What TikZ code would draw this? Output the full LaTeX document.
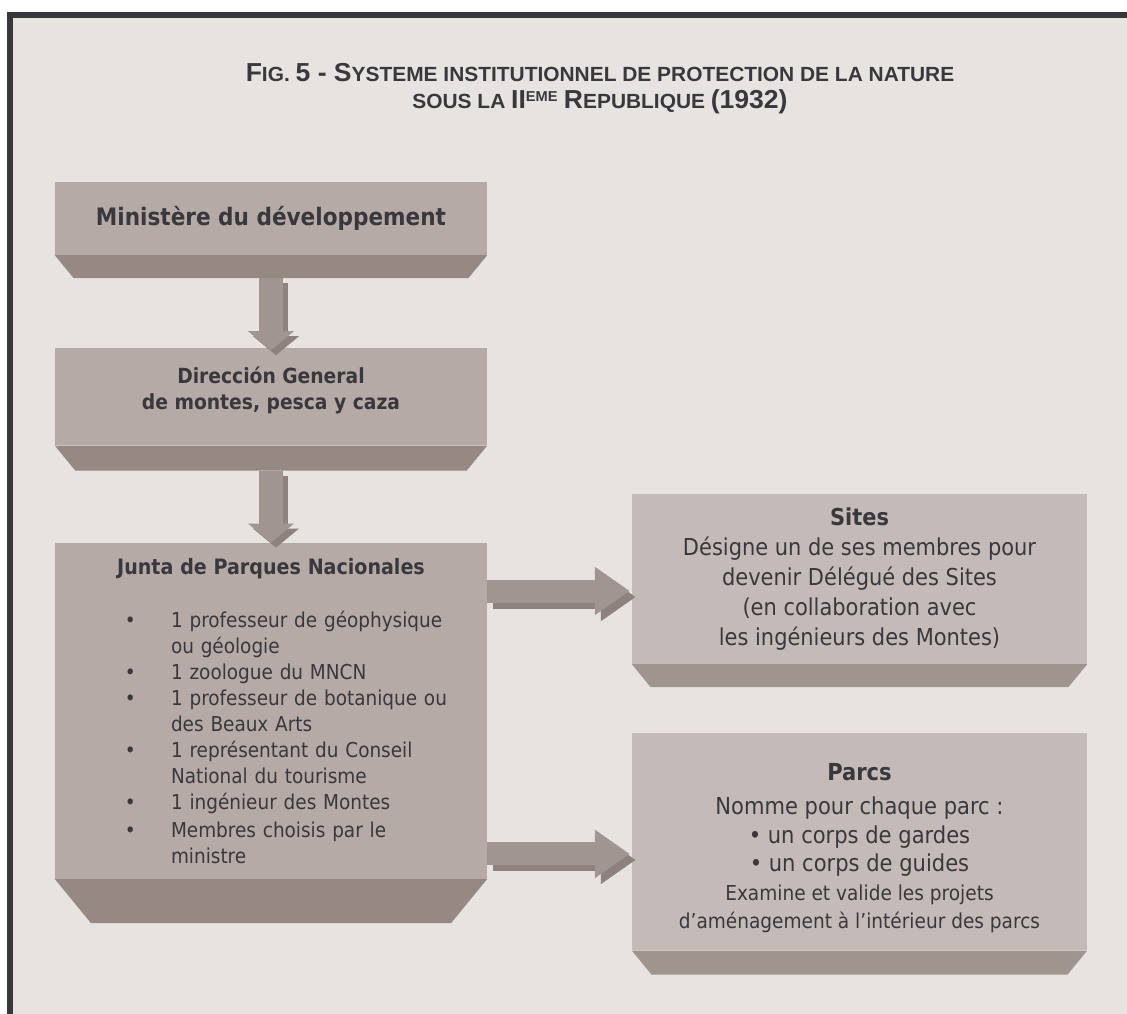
\documentclass[tikz,border=0pt]{standalone}
\usepackage{fontspec}
\usepackage{graphicx}
\setmainfont{DejaVu Sans Condensed}[BoldFont={DejaVu Sans Condensed Bold}]
\newfontfamily\titrefont{Liberation Sans}[BoldFont={Liberation Sans Bold}]
\usetikzlibrary{positioning,calc,arrows.meta}

\definecolor{fond}{HTML}{E6E3E0}
\definecolor{cadre}{HTML}{37373C}
\definecolor{encre}{HTML}{38383D}
\definecolor{face}{HTML}{B5AAA6}
\definecolor{facer}{HTML}{C4BBB8}
\definecolor{socle}{HTML}{968883}
\definecolor{socler}{HTML}{A0948F}
\definecolor{fleche}{HTML}{A19592}
\definecolor{ombre}{HTML}{8F827E}

% grandes capitales du titre
\newcommand{\gc}[1]{{\fontsize{26pt}{27pt}\selectfont #1}}
% puce de la liste de la Junta
\newcommand{\puce}{\makebox[116pt][l]{\hspace{70pt}\textbullet}}
% socle en biseau sous une boite
\newcommand{\base}[3]{\fill[#3] (#1.south west) -- (#1.south east) -- ++(-0.82*#2,#2) -- ($(#1.south west)+(0.82*#2,#2)$) -- cycle;}

\begin{document}
\begin{tikzpicture}[x=1pt,y=-1pt,
  boite/.style={fill=face,text=encre,minimum width=432pt,inner sep=0pt,align=center},
  boiter/.style={boite,fill=facer,minimum width=455pt},
  fl/.style={line width=24pt,fleche,-{Triangle[width=45pt,length=19pt]}},
  flr/.style={line width=23pt,fleche,-{Triangle[width=46pt,length=35pt]}}]
  \useasboundingbox (0,0) rectangle (1127,1014);
  \fill[white] (0,0) rectangle (1127,1014);
  \fill[fond] (10,15) rectangle (1127,1014);
  \draw[cadre,line width=6pt] (10,1014) -- (10,15) -- (1127,15);

  \node[text=encre,align=center,font=\titrefont\bfseries\fontsize{20.5pt}{27pt}\selectfont] (titre) at (600,89)
    {\scalebox{1.02}[1]{\gc{F}IG.\ \gc{5 - S}YSTEME INSTITUTIONNEL DE PROTECTION DE LA NATURE}\\
     \scalebox{1.02}[1]{SOUS LA \gc{II}\textsuperscript{EME} \gc{R}EPUBLIQUE \gc{(1932)}}};

  \node[boite,minimum height=73pt,font=\bfseries\fontsize{24pt}{28pt}\selectfont] (min) at (271,218.5) {Ministère du développement};
  \node[boite,minimum height=97pt,below=93pt of min,font=\bfseries\fontsize{20.8pt}{26pt}\selectfont] (dir) {Dirección General\\de montes, pesca y caza\rule[-17pt]{0pt}{17pt}};
  \node[boite,minimum height=336pt,text width=432pt,align=left,below=97pt of dir,font=\fontsize{20.5pt}{26pt}\selectfont] (junta) {%
    \makebox[432pt]{\bfseries\fontsize{21.2pt}{26pt}\selectfont Junta de Parques Nacionales}\\[27pt]
    \puce 1 professeur de géophysique\\
    \hspace*{116pt}ou géologie\\
    \puce 1 zoologue du MNCN\\
    \puce 1 professeur de botanique ou\\
    \hspace*{116pt}des Beaux Arts\\
    \puce 1 représentant du Conseil\\
    \hspace*{116pt}National du tourisme\\
    \puce 1 ingénieur des Montes\\[2pt]
    \puce Membres choisis par le\\
    \hspace*{116pt}ministre};

  \node[boiter,minimum height=170pt,font=\fontsize{23.3pt}{30pt}\selectfont] (sites) at (859.5,579)
    {\textbf{Sites}\\Désigne un de ses membres pour\\devenir Délégué des Sites\\(en collaboration avec\\les ingénieurs des Montes)};
  \node[boiter,minimum height=217pt,below=69pt of sites,font=\fontsize{23.4pt}{28.5pt}\selectfont] (parcs)
    {\rule{0pt}{29pt}\textbf{Parcs}\\[6pt]Nomme pour chaque parc :\\\textbullet\ un corps de gardes\\\textbullet\ un corps de guides\\
     {\fontsize{20.6pt}{27pt}\selectfont Examine et valide les projets}\\
     {\fontsize{20.6pt}{27pt}\selectfont d’aménagement à l’intérieur des parcs}};

  \base{min}{23}{socle}
  \base{dir}{25}{socle}
  \base{junta}{44}{socle}
  \base{sites}{23}{socler}
  \base{parcs}{24}{socler}

  \coordinate (s1) at ($(sites.west)+(-2,12)$);
  \coordinate (p1) at ($(parcs.west)+(-2,12)$);

  \draw[fl,ombre,transform canvas={shift={(5pt,-5pt)}}] ($(min.south)+(0,23)$) -- ($(dir.north)+(0,2)$);
  \draw[fl] ($(min.south)+(0,23)$) -- ($(dir.north)+(0,2)$);
  \draw[fl,ombre,transform canvas={shift={(5pt,-5pt)}}] ($(dir.south)+(0,25)$) -- (junta.north);
  \draw[fl] ($(dir.south)+(0,25)$) -- (junta.north);
  \draw[flr,ombre,transform canvas={shift={(6pt,-6pt)}}] (junta.east |- s1) -- (s1);
  \draw[flr] (junta.east |- s1) -- (s1);
  \draw[flr,ombre,transform canvas={shift={(6pt,-6pt)}}] (junta.east |- p1) -- (p1);
  \draw[flr] (junta.east |- p1) -- (p1);
\end{tikzpicture}
\end{document}
